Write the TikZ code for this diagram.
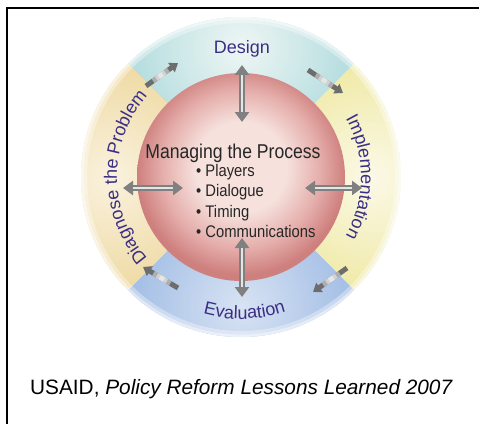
\documentclass[tikz,border=0pt]{standalone}
\usepackage{fontspec}
\setmainfont{Liberation Sans}
\newfontfamily\narrowsans[FakeStretch=0.88]{Liberation Sans}
\usetikzlibrary{decorations.text,arrows.meta,calc}

\definecolor{designSat}{HTML}{B8DEE0}
\definecolor{designLt}{HTML}{EEF6F4}
\definecolor{implSat}{HTML}{F0EAA8}
\definecolor{implLt}{HTML}{FBF9E8}
\definecolor{evalSat}{HTML}{A6C0E6}
\definecolor{evalLt}{HTML}{D8E3F3}
\definecolor{diagSat}{HTML}{EFDBA6}
\definecolor{diagLt}{HTML}{FAF2DE}
\definecolor{sphEdge}{HTML}{CE807E}
\definecolor{sphMid}{HTML}{E5AEAB}
\definecolor{sphCtr}{HTML}{F6E1DD}
\definecolor{ringText}{HTML}{3B2E85}
\definecolor{bodyText}{HTML}{262626}
\definecolor{arrowGray}{HTML}{808080}

\pgfdeclareradialshading{sphereshade}{\pgfpoint{0bp}{3bp}}{%
  color(0bp)=(sphCtr); color(11bp)=(sphCtr); color(19bp)=(sphMid);
  color(25bp)=(sphEdge); color(50bp)=(sphEdge)}

\newcommand{\ringfont}{\fontsize{18}{20}\selectfont\color{ringText}}
\newcommand{\titlefont}{\narrowsans\fontsize{20}{22}\selectfont\color{bodyText}}
\newcommand{\listfont}{\narrowsans\fontsize{16.8}{19}\selectfont\color{bodyText}}

\tikzset{
  ringlabel/.style={inner sep=0pt, font=\ringfont},
  centerline/.style={inner sep=0pt, anchor=base west},
  dblarrow/.style={line width=6pt, draw=arrowGray,
     {Triangle[length=10pt,width=14pt]}-{Triangle[length=10pt,width=14pt]}},
  cycarrow/.style={line width=5pt, draw=arrowGray!85!black,
     -{Triangle[length=8pt,width=11pt]}},
  shine/.style={line width=2.2pt, draw=white, opacity=0.8},
  cycshine/.style={line width=5pt, draw=white, opacity=0.45},
}

\begin{document}
\begin{tikzpicture}[x=1pt,y=1pt]
\useasboundingbox (0,0) rectangle (479,424);
\def\Rout{160}
\def\Rin{104}
\coordinate (c) at (241,247);

% ---- ring sectors ----
\begin{scope}
  \clip ($(c)+(45:\Rin)$) arc (45:135:\Rin) -- ($(c)+(135:\Rout)$) arc (135:45:\Rout) -- cycle;
  \fill[designSat] (c) circle (\Rout);
  \shade[inner color=designLt, outer color=designSat] ($(c)+(90:130)$) circle (105);
\end{scope}
\begin{scope}
  \clip ($(c)+(-45:\Rin)$) arc (-45:45:\Rin) -- ($(c)+(45:\Rout)$) arc (45:-45:\Rout) -- cycle;
  \fill[implSat] (c) circle (\Rout);
  \shade[inner color=implLt, outer color=implSat] ($(c)+(0:130)$) circle (110);
\end{scope}
\begin{scope}
  \clip ($(c)+(225:\Rin)$) arc (225:315:\Rin) -- ($(c)+(315:\Rout)$) arc (315:225:\Rout) -- cycle;
  \fill[evalSat] (c) circle (\Rout);
  \shade[inner color=evalLt, outer color=evalSat] ($(c)+(270:130)$) circle (105);
\end{scope}
\begin{scope}
  \clip ($(c)+(135:\Rin)$) arc (135:225:\Rin) -- ($(c)+(225:\Rout)$) arc (225:135:\Rout) -- cycle;
  \fill[diagSat] (c) circle (\Rout);
  \shade[inner color=diagLt, outer color=diagSat] ($(c)+(180:130)$) circle (110);
\end{scope}
% soft outer edge
\draw[white, opacity=0.35, line width=6pt] (c) circle (157);
\draw[white, opacity=0.45, line width=2.5pt] (c) circle (158.8);

% ---- central sphere ----
\shade[shading=sphereshade] (c) circle (\Rin);

% ---- ring labels ----
\node[ringlabel, anchor=base] (design) at (242,370) {Design};
\path[decorate, decoration={text along path, text align=center,
   text={|\ringfont|Implementation}}]
   ($(c)+(45:120)$) arc (45:-45:120);
\path[decorate, decoration={text along path, text align=center,
   text={|\ringfont|Evaluation}}]
   ($(c)+(240:142)$) arc (240:303:142);
\path[decorate, decoration={text along path, text align=center,
   text={|\ringfont|Diagnose the Problem}}]
   ($(c)+(228:124)$) arc (228:132:124);

% ---- centre text ----
\node[inner sep=0pt, anchor=base] (title) at (233,266) {\titlefont Managing the Process};
\node[centerline] (players) at (196,247.5) {\listfont\textbullet\ Players};
\node[centerline] (dialogue) at (196,227.3) {\listfont\textbullet\ Dialogue};
\node[centerline] (timing) at (196,207) {\listfont\textbullet\ Timing};
\node[centerline] (comms) at (196,186.7) {\listfont\textbullet\ Communications};

% ---- double arrows ----
\coordinate (topA) at (242,359);
\coordinate (topB) at (242,302);
\coordinate (botA) at (242,186);
\coordinate (botB) at (242,127);
\coordinate (lefA) at (123,236);
\coordinate (lefB) at (183,236);
\coordinate (rigA) at (305,236);
\coordinate (rigB) at (362,236);
\foreach \a/\b in {topA/topB, botA/botB, lefA/lefB, rigA/rigB}{
  \draw[dblarrow] (\a) -- (\b);
  \draw[shine] ($(\a)!10pt!(\b)$) -- ($(\b)!10pt!(\a)$);
}

% ---- cycle arrows ----
\coordinate (ulA) at (146,338);
\coordinate (ulB) at (178,361);
\coordinate (urA) at (308,354);
\coordinate (urB) at (343,331);
\coordinate (lrA) at (347,156);
\coordinate (lrB) at (313,132);
\coordinate (llA) at (178,136);
\coordinate (llB) at (143,157);
\foreach \a/\b in {ulA/ulB, urA/urB, lrA/lrB, llA/llB}{
  \draw[cycarrow] (\a) -- (\b);
  \draw[cycshine] ($(\a)!0.22!(\b)$) -- ($(\a)!0.70!(\b)$);
  \draw[cycshine] ($(\a)!0.32!(\b)$) -- ($(\a)!0.60!(\b)$);
  \draw[cycshine] ($(\a)!0.40!(\b)$) -- ($(\a)!0.52!(\b)$);
}

% ---- caption ----
\node[inner sep=0pt, anchor=base west] (caption) at (30,30)
  {\fontsize{20.8}{24}\selectfont USAID, \textit{Policy Reform Lessons Learned 2007}};

% ---- frame ----
\draw[line width=2pt] (6.7,0) -- (6.7,415.5) -- (479,415.5);
\end{tikzpicture}
\end{document}
